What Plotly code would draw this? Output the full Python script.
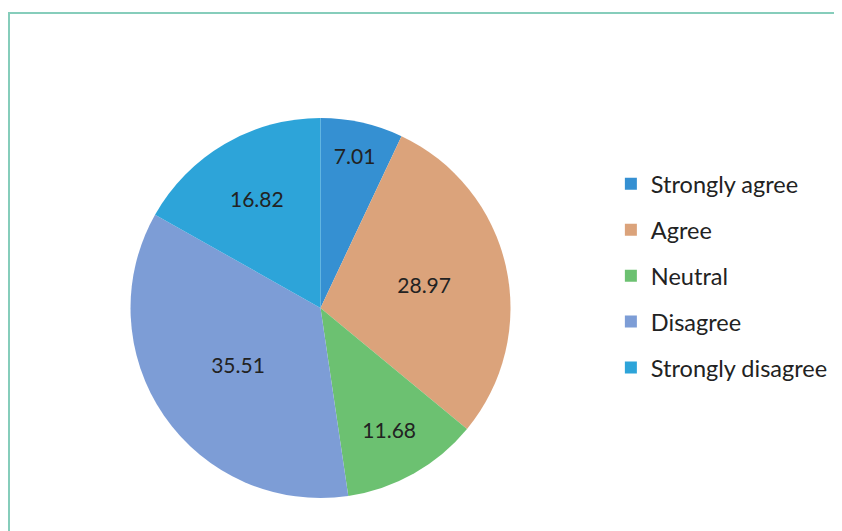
import plotly.graph_objects as go

categories = ["Strongly agree", "Agree", "Neutral", "Disagree", "Strongly disagree"]
values = [7.01, 28.97, 11.68, 35.51, 16.82]
colors = ["#3590D2", "#DBA37B", "#6CC171", "#7D9DD6", "#2DA4D9"]

fig = go.Figure()
fig.add_trace(go.Pie(
    labels=categories,
    values=values,
    sort=False,
    direction="clockwise",
    rotation=0,
    marker=dict(colors=colors, line=dict(width=0)),
    texttemplate="%{value:.2f}",
    textposition="inside",
    insidetextorientation="horizontal",
    textfont=dict(family="Lato", size=21, color="#222222"),
    domain=dict(x=[0.1449, 0.5974], y=[0.0772, 0.7928]),
    showlegend=False,
    hoverinfo="label+value",
))

# legend entries (native legend, one group per category for spacing)
for i, (c, col) in enumerate(zip(categories, colors)):
    fig.add_trace(go.Scatter(
        x=[None], y=[None], mode="markers", name=c,
        marker=dict(symbol="square", size=12, color=col),
        legendgroup=f"g{i}", showlegend=True,
    ))

fig.update_layout(
    width=842, height=531,
    margin=dict(l=0, r=0, t=0, b=0),
    paper_bgcolor="white", plot_bgcolor="white",
    xaxis=dict(visible=False), yaxis=dict(visible=False),
    legend=dict(
        x=0.716, y=0.71, xanchor="left", yanchor="top",
        font=dict(family="Lato", size=23.5, color="#222222"),
        tracegroupgap=12.4, itemwidth=30, bgcolor="rgba(0,0,0,0)",
    ),
    shapes=[dict(type="rect", xref="paper", yref="paper",
                 x0=1/842, x1=1.02, y0=-0.02, y1=1-5/531,
                 line=dict(color="#86CDBB", width=2))],
)

fig.write_html("out.html")
